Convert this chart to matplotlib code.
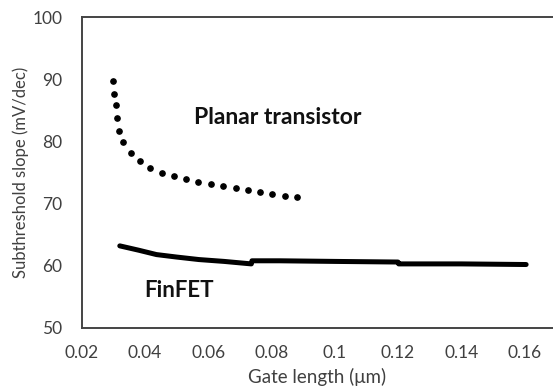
import numpy as np
import matplotlib.pyplot as plt

plt.rcParams['font.family'] = ['Lato', 'DejaVu Sans']

# planar transistor (dotted)
planar_len = [0.0299, 0.0303, 0.0307, 0.0312, 0.0318, 0.0330, 0.0354, 0.0384, 0.0415,
              0.0452, 0.0492, 0.0530, 0.0568, 0.0607, 0.0647, 0.0686, 0.0724, 0.0763,
              0.0802, 0.0842, 0.0879]
planar_ss = [89.8, 87.7, 85.9, 83.8, 81.7, 79.9, 78.2, 76.9, 75.8,
             75.0, 74.4, 74.0, 73.5, 73.1, 72.8, 72.5, 72.2, 71.8,
             71.5, 71.3, 71.0]

# FinFET (solid)
finfet_len = [0.032, 0.038, 0.0436, 0.050, 0.057, 0.065, 0.0736, 0.0738, 0.0826, 0.100, 0.1200, 0.1202, 0.140, 0.1605]
finfet_ss = [63.2, 62.5, 61.8, 61.4, 61.0, 60.7, 60.3, 60.8, 60.8, 60.7, 60.6, 60.3, 60.3, 60.2]

xticks = [0.02, 0.04, 0.06, 0.08, 0.1, 0.12, 0.14, 0.16]
xticklabels = ['0.02', '0.04', '0.06', '0.08', '0.1', '0.12', '0.14', '0.16']
yticks = [50, 60, 70, 80, 90, 100]

fig = plt.figure(figsize=(5.53, 3.89), dpi=100)
ax = fig.add_axes([0.148, 0.157, 0.852, 0.799])

ax.plot(planar_len, planar_ss, linestyle='none', marker='o', markersize=3.8, color='black')
ax.plot(finfet_len, finfet_ss, color='black', linewidth=3.6, solid_capstyle='round')

ax.set_xlim(0.02, 0.169)
ax.set_ylim(50, 100)
ax.set_xticks(xticks)
ax.set_xticklabels(xticklabels)
ax.set_yticks(yticks)
ax.tick_params(axis='x', length=0, labelsize=12.5, colors='#404040', pad=12)
ax.tick_params(axis='y', length=0, labelsize=12.5, colors='#404040', pad=14)

for s in ['left', 'bottom', 'top']:
    ax.spines[s].set_color('#444444')
    ax.spines[s].set_linewidth(1.4)
ax.spines['right'].set_visible(False)

ax.set_xlabel('Gate length (μm)', fontsize=13.5, color='#404040', labelpad=5)
ax.set_ylabel('Subthreshold slope (mV/dec)', fontsize=12, color='#404040')
ax.yaxis.set_label_coords(-0.112, 0.5)

ax.text(0.0556, 83.8, 'Planar transistor', fontsize=16.5, fontweight='bold', ha='left', va='center', color='#111111')
ax.text(0.0396, 56.0, 'FinFET', fontsize=16, fontweight='bold', ha='left', va='center', color='#111111')

fig.savefig('out.png', dpi=100)
